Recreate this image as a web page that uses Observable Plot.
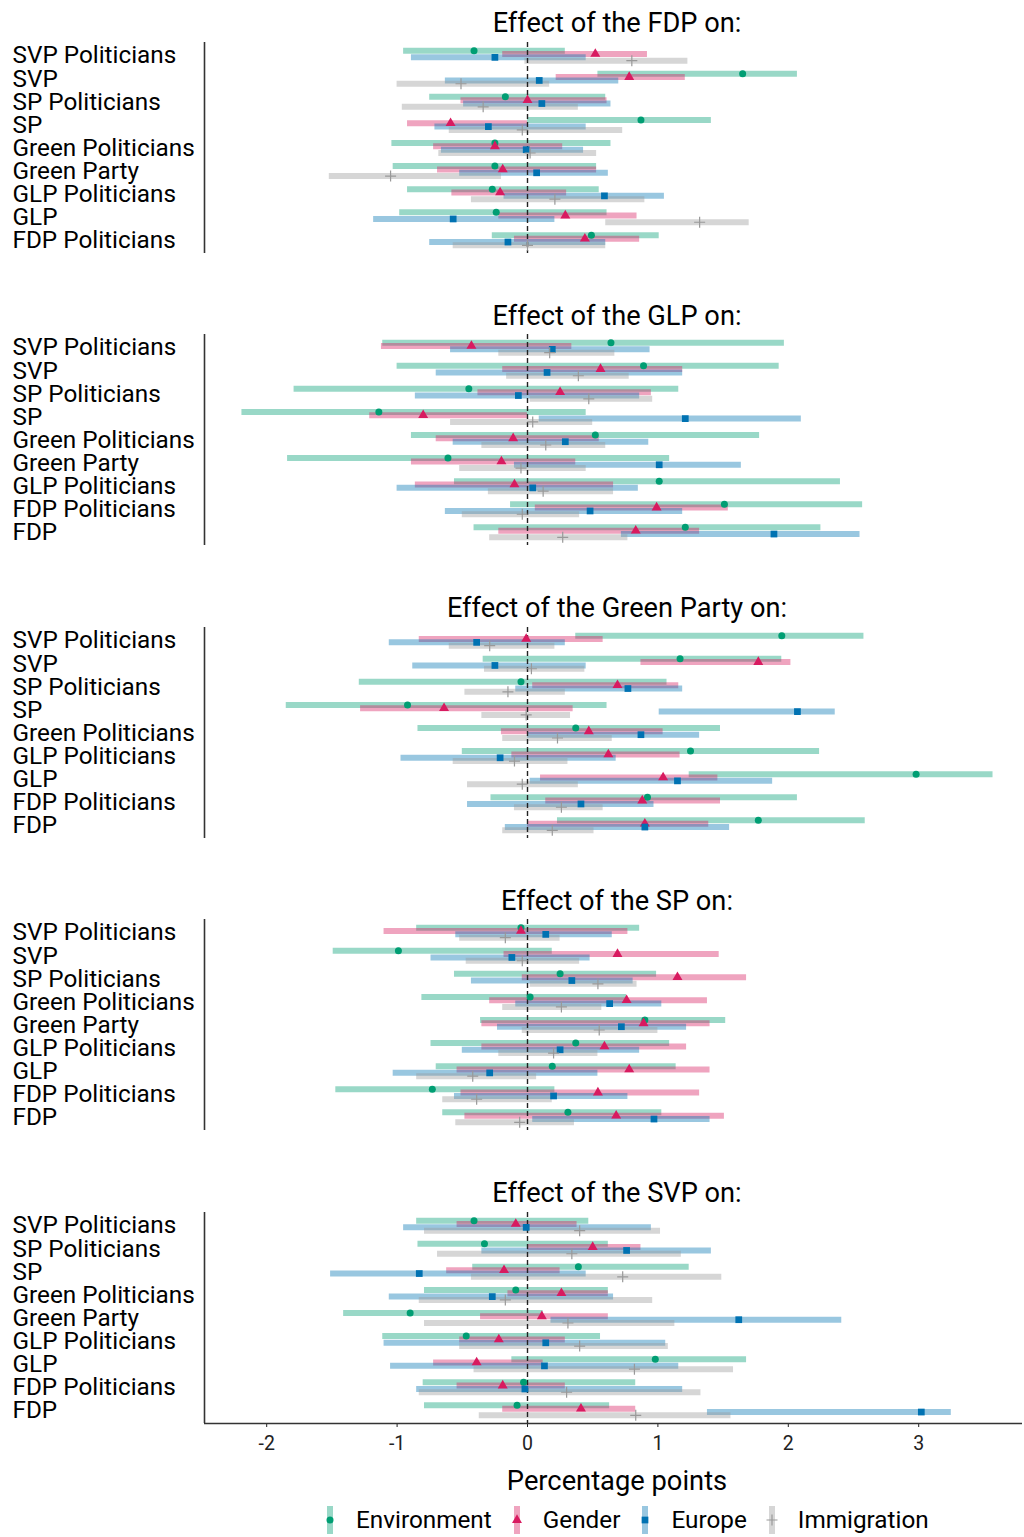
<!DOCTYPE html>
<html><head><meta charset="utf-8">
<script src="https://cdn.jsdelivr.net/npm/d3@7"></script>
<script src="https://cdn.jsdelivr.net/npm/@observablehq/plot@0.6"></script>
<style>
body{margin:0;background:#fff;font-family:Roboto,sans-serif;color:#000;}
#chart{width:1024px;}
.title{height:41.5px;box-sizing:border-box;padding-top:8px;line-height:30px;font-size:27.2px;margin-left:204px;width:826px;text-align:center;white-space:nowrap;}
svg{display:block}
.xlabel{height:44px;line-height:44px;font-size:27.3px;margin-left:204px;width:826px;text-align:center}
.legend{display:flex;align-items:center;height:34.5px;margin-left:320px;font-size:24.3px}
</style></head><body><div id="chart"></div><script>
const panelTitles = ["Effect of the FDP on:", "Effect of the GLP on:", "Effect of the Green Party on:", "Effect of the SP on:", "Effect of the SVP on:"];
const seriesNames = ["Environment", "Gender", "Europe", "Immigration"];
const xTicks = [-2, -1, 0, 1, 2, 3];
const xLabel = "Percentage points";

const rowsFDP = ["SVP Politicians","SVP","SP Politicians","SP","Green Politicians","Green Party","GLP Politicians","GLP","FDP Politicians"];
const rowsGLP = ["SVP Politicians","SVP","SP Politicians","SP","Green Politicians","Green Party","GLP Politicians","FDP Politicians","FDP"];
const rowsGreen = ["SVP Politicians","SVP","SP Politicians","SP","Green Politicians","GLP Politicians","GLP","FDP Politicians","FDP"];
const rowsSP = ["SVP Politicians","SVP","SP Politicians","Green Politicians","Green Party","GLP Politicians","GLP","FDP Politicians","FDP"];
const rowsSVP = ["SVP Politicians","SP Politicians","SP","Green Politicians","Green Party","GLP Politicians","GLP","FDP Politicians","FDP"];

// each entry: [estimate, lower, upper]
const fdpEnvironment = [[-0.41,-0.95,0.29],[1.65,0.54,2.07],[-0.17,-0.75,0.60],[0.87,0.0,1.41],[-0.25,-1.04,0.64],[-0.25,-1.03,0.53],[-0.27,-0.92,0.55],[-0.24,-0.98,0.61],[0.49,-0.27,1.01]];
const fdpGender = [[0.52,-0.19,0.92],[0.78,0.22,1.21],[0.0,-0.51,0.61],[-0.59,-0.92,0.0],[-0.25,-0.72,0.27],[-0.19,-0.69,0.53],[-0.21,-0.58,0.30],[0.29,-0.22,0.84],[0.44,-0.10,0.86]];
const fdpEurope = [[-0.25,-0.89,0.45],[0.09,-0.63,0.70],[0.11,-0.49,0.64],[-0.30,-0.71,0.45],[-0.01,-0.66,0.43],[0.07,-0.52,0.62],[0.59,-0.18,1.05],[-0.57,-1.18,0.21],[-0.15,-0.75,0.60]];
const fdpImmigration = [[0.80,-0.02,1.23],[-0.51,-1.0,0.17],[-0.34,-0.96,0.39],[-0.04,-0.60,0.73],[0.02,-0.68,0.53],[-1.05,-1.52,-0.20],[0.21,-0.43,0.90],[1.32,0.60,1.70],[0.0,-0.57,0.60]];

const glpEnvironment = [[0.64,-1.11,1.97],[0.89,-1.0,1.93],[-0.45,-1.79,1.16],[-1.14,-2.19,0.45],[0.52,-0.89,1.78],[-0.61,-1.84,1.09],[1.01,-0.56,2.40],[1.51,-0.13,2.57],[1.21,-0.41,2.25]];
const glpGender = [[-0.43,-1.12,0.34],[0.56,-0.19,1.19],[0.25,-0.38,0.95],[-0.80,-1.21,0.0],[-0.11,-0.70,0.55],[-0.20,-0.89,0.37],[-0.10,-0.86,0.66],[0.99,0.06,1.54],[0.83,-0.22,1.32]];
const glpEurope = [[0.19,-0.59,0.94],[0.15,-0.70,1.19],[-0.07,-0.86,0.86],[1.21,0.09,2.10],[0.29,-0.57,0.93],[1.01,-0.10,1.64],[0.04,-1.0,0.85],[0.48,-0.63,1.19],[1.89,0.72,2.55]];
const glpImmigration = [[0.17,-0.22,0.67],[0.39,-0.16,0.78],[0.47,0.02,0.96],[0.04,-0.59,0.50],[0.14,-0.35,0.60],[-0.05,-0.52,0.45],[0.12,-0.30,0.66],[-0.04,-0.50,0.40],[0.27,-0.29,0.77]];

const greenEnvironment = [[1.95,0.37,2.58],[1.17,-0.34,1.95],[-0.05,-1.29,1.07],[-0.92,-1.85,0.61],[0.37,-0.84,1.48],[1.25,-0.50,2.24],[2.98,1.24,3.57],[0.92,-0.28,2.07],[1.77,0.23,2.59]];
const greenGender = [[-0.01,-0.83,0.58],[1.77,0.87,2.02],[0.69,0.04,1.16],[-0.64,-1.28,0.35],[0.47,-0.20,1.04],[0.62,-0.12,1.17],[1.04,0.10,1.46],[0.88,0.14,1.48],[0.90,0.0,1.39]];
const greenEurope = [[-0.39,-1.06,0.29],[-0.25,-0.88,0.45],[0.77,-0.09,1.19],[2.07,1.01,2.36],[0.87,0.0,1.32],[-0.21,-0.97,0.68],[1.15,0.02,1.88],[0.41,-0.46,0.97],[0.90,-0.17,1.55]];
const greenImmigration = [[-0.29,-0.60,0.21],[0.03,-0.33,0.44],[-0.15,-0.48,0.29],[-0.01,-0.35,0.33],[0.23,-0.19,0.65],[-0.10,-0.57,0.31],[-0.04,-0.46,0.39],[0.26,-0.10,0.58],[0.19,-0.19,0.51]];

const spEnvironment = [[-0.05,-0.85,0.86],[-0.99,-1.49,0.19],[0.25,-0.56,0.99],[0.02,-0.81,0.76],[0.90,-0.36,1.52],[0.37,-0.74,1.09],[0.19,-0.70,1.14],[-0.73,-1.47,0.21],[0.31,-0.65,1.03]];
const spGender = [[-0.05,-1.10,0.77],[0.69,-0.18,1.47],[1.15,-0.04,1.68],[0.76,-0.29,1.38],[0.89,-0.35,1.40],[0.59,-0.35,1.22],[0.78,-0.54,1.40],[0.54,-0.51,1.32],[0.68,-0.48,1.51]];
const spEurope = [[0.14,-0.55,0.65],[-0.12,-0.74,0.48],[0.34,-0.43,0.81],[0.63,-0.09,1.03],[0.72,-0.23,1.22],[0.25,-0.50,0.86],[-0.29,-1.03,0.54],[0.20,-0.56,0.77],[0.97,0.04,1.40]];
const spImmigration = [[-0.17,-0.52,0.25],[-0.04,-0.47,0.40],[0.54,0.02,0.84],[0.26,-0.19,0.57],[0.55,-0.04,1.0],[0.20,-0.22,0.54],[-0.42,-0.85,0.07],[-0.39,-0.65,0.19],[-0.06,-0.55,0.36]];

const svpEnvironment = [[-0.41,-0.85,0.47],[-0.33,-0.84,0.62],[0.39,-0.42,1.24],[-0.09,-0.79,0.62],[-0.90,-1.41,0.12],[-0.47,-1.11,0.56],[0.98,-0.12,1.68],[-0.03,-0.80,0.83],[-0.08,-0.79,0.63]];
const svpGender = [[-0.09,-0.54,0.38],[0.50,0.0,0.87],[-0.18,-0.62,0.25],[0.26,-0.15,0.62],[0.11,-0.36,0.62],[-0.22,-0.52,0.29],[-0.39,-0.72,0.12],[-0.19,-0.54,0.29],[0.41,-0.19,0.83]];
const svpEurope = [[-0.01,-0.95,0.95],[0.76,-0.35,1.41],[-0.83,-1.51,0.45],[-0.27,-1.06,0.66],[1.62,0.18,2.41],[0.14,-1.10,1.06],[0.13,-1.05,1.16],[-0.02,-0.85,1.19],[3.02,1.38,3.25]];
const svpImmigration = [[0.40,-0.79,1.02],[0.34,-0.69,1.18],[0.73,-0.43,1.49],[-0.17,-0.83,0.96],[0.31,-0.79,1.13],[0.40,-0.52,1.08],[0.82,-0.41,1.58],[0.30,-0.83,1.33],[0.83,-0.37,1.56]];

const panels = [
  {title: panelTitles[0], rows: rowsFDP, values: [fdpEnvironment, fdpGender, fdpEurope, fdpImmigration]},
  {title: panelTitles[1], rows: rowsGLP, values: [glpEnvironment, glpGender, glpEurope, glpImmigration]},
  {title: panelTitles[2], rows: rowsGreen, values: [greenEnvironment, greenGender, greenEurope, greenImmigration]},
  {title: panelTitles[3], rows: rowsSP, values: [spEnvironment, spGender, spEurope, spImmigration]},
  {title: panelTitles[4], rows: rowsSVP, values: [svpEnvironment, svpGender, svpEurope, svpImmigration]}
];

// styles
const colors = {Environment: "#009E73", Gender: "#D81B60", Europe: "#0072B2", Immigration: "#999999"};
const offsets = {Environment: -5, Gender: -1.7, Europe: 1.7, Immigration: 5};
const plusSymbol = {draw(ctx, size) { const r = Math.sqrt(size / Math.PI); ctx.moveTo(-r, 0); ctx.lineTo(r, 0); ctx.moveTo(0, -r); ctx.lineTo(0, r); }};
const symbols = {Environment: "circle", Gender: "triangle", Europe: "square", Immigration: plusSymbol};
const radii = {Environment: 3.5, Gender: 3.7, Europe: 3.8, Immigration: 5.5};
const X_DOMAIN = [-2.477, 3.796];
const Y_DOMAIN = [-0.57, 8.57];

const chart = d3.select("#chart");

panels.forEach((p, pi) => {
  const last = pi === panels.length - 1;
  const table = [];
  p.values.forEach((arr, si) => arr.forEach((v, ri) => table.push({series: seriesNames[si], row: ri, label: p.rows[ri], est: v[0], lo: v[1], hi: v[2]})));
  const marks = [];
  marks.push(Plot.ruleX([X_DOMAIN[0]], {stroke: "#333", strokeWidth: 1.6}));
  if (last) marks.push(Plot.ruleY([Y_DOMAIN[1]], {stroke: "#333", strokeWidth: 1.6}));
  for (const s of seriesNames) {
    marks.push(Plot.ruleY(table.filter(d => d.series === s), {y: "row", x1: "lo", x2: "hi", dy: offsets[s], stroke: colors[s], strokeOpacity: 0.4, strokeWidth: 6}));
  }
  marks.push(Plot.ruleX([0], {stroke: "#222", strokeDasharray: "5,3", strokeWidth: 1.4}));
  for (const s of seriesNames) {
    const sub = table.filter(d => d.series === s);
    if (s === "Immigration") {
      marks.push(Plot.dot(sub, {x: "est", y: "row", dy: offsets[s], symbol: symbols[s], r: radii[s], fill: "none", stroke: colors[s], strokeWidth: 1.2}));
    } else {
      marks.push(Plot.dot(sub, {x: "est", y: "row", dy: offsets[s], symbol: symbols[s], r: radii[s], fill: colors[s], stroke: "none"}));
    }
  }
  marks.push(Plot.text(p.rows, {y: (d, i) => i, text: d => d, frameAnchor: "left", dx: -192, textAnchor: "start", fontSize: 24.3, fill: "#000"}));

  chart.append("div").attr("class", "title").text(p.title);
  const svg = Plot.plot({
    width: 1024,
    height: last ? 247 : 251,
    marginLeft: 204, marginRight: 2, marginTop: 0, marginBottom: last ? 36 : 40,
    x: last ? {domain: X_DOMAIN, ticks: xTicks, tickFormat: d => String(d), tickSize: 4, tickPadding: 9, label: null}
            : {domain: X_DOMAIN, axis: null},
    y: {domain: Y_DOMAIN, reverse: true, axis: null},
    style: {fontFamily: "Roboto", fontSize: "19.5px", color: "#222", background: "white", overflow: "visible"},
    marks
  });
  chart.node().appendChild(svg);
});

chart.append("div").attr("class", "xlabel").text(xLabel);

const legend = chart.append("div").attr("class", "legend");
seriesNames.forEach(s => {
  const item = legend.append("div").style("display", "flex").style("align-items", "center").style("margin-right", "15px");
  const ksvg = item.append("svg").attr("width", 20).attr("height", 32);
  ksvg.append("line").attr("x1", 10).attr("x2", 10).attr("y1", 2).attr("y2", 30)
    .attr("stroke", colors[s]).attr("stroke-opacity", 0.4).attr("stroke-width", 6);
  if (s === "Immigration") {
    ksvg.append("path").attr("d", "M4.5,16H15.5M10,10.5V21.5").attr("stroke", colors[s]).attr("stroke-width", 1.2).attr("fill", "none");
  } else {
    const sym = {Environment: d3.symbolCircle, Gender: d3.symbolTriangle, Europe: d3.symbolSquare}[s];
    ksvg.append("path").attr("transform", "translate(10,16)")
      .attr("d", d3.symbol(sym, Math.PI * radii[s] * radii[s])()).attr("fill", colors[s]);
  }
  item.append("span").style("margin-left", "16px").text(s);
});
</script></body></html>
